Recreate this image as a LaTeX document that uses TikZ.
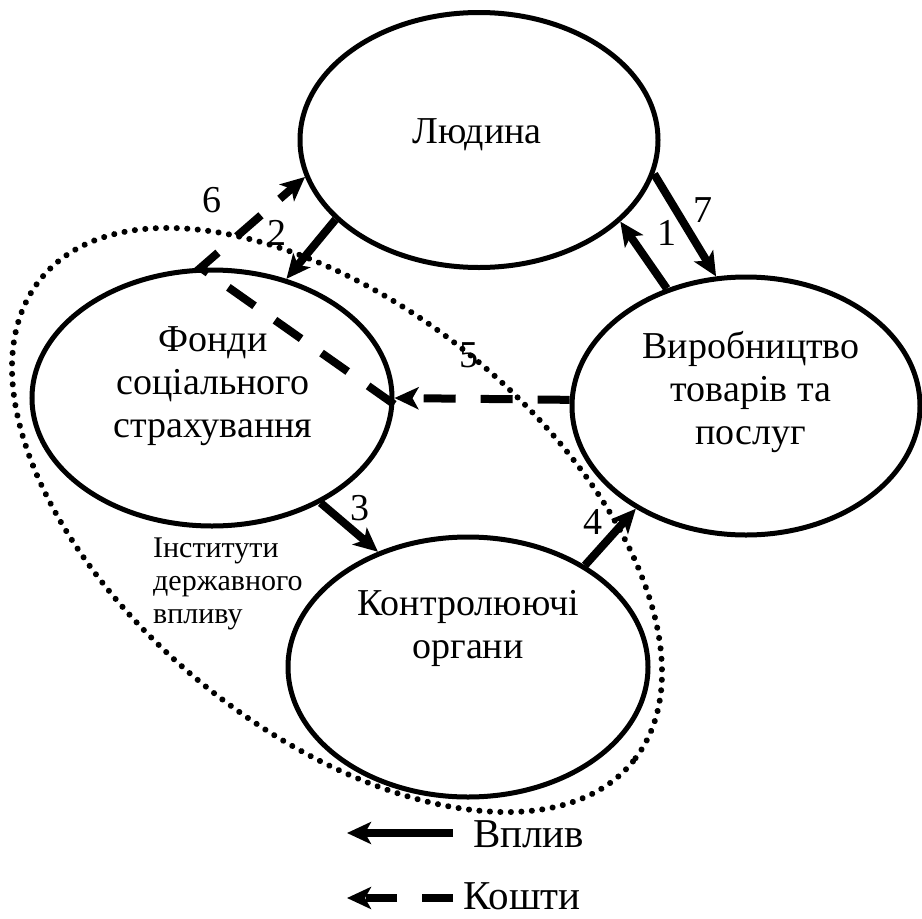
\documentclass[tikz,border=0pt]{standalone}
\usepackage{fontspec}
\setmainfont{Liberation Serif}
\usetikzlibrary{arrows.meta,shapes.geometric}
\begin{document}
\begin{tikzpicture}[x=1pt,y=-1pt,
  ell/.style={ellipse, draw, line width=5pt, inner sep=0pt},
  txt/.style={align=center, font=\fontsize{38}{43}\selectfont, inner sep=0pt},
  num/.style={font=\fontsize{38}{43}\selectfont, inner sep=0pt},
  tip/.style={-{Stealth[length=24pt,width=22pt,inset=6pt]}},
  infl/.style={tip, line width=8pt},
  money/.style={tip, line width=8pt, dash pattern=on 32pt off 25pt},
  dotline/.style={line width=6pt, line cap=round, dash pattern=on 0.1pt off 10.4pt}]
\useasboundingbox (0,0) rectangle (922,919);

% dotted boundary of state institutions
\draw[dotline, rotate around={-39.2:(337,520)}] (337,520) ellipse [x radius=382, y radius=212];

% ellipses
\node[ell, minimum width=358pt, minimum height=255pt] (lud) at (479,140) {};
\node[ell, minimum width=360pt, minimum height=256pt] (fon) at (212,398) {};
\node[ell, minimum width=348pt, minimum height=258pt] (vyr) at (746,406) {};
\node[ell, minimum width=360pt, minimum height=260pt] (kon) at (468,667) {};

% texts
\node[txt] (tlud) at (477,135) {Людина};
\node[txt] (tfon) at (213,386) {Фонди\\соціального\\страхування};
\node[txt] (tvyr) at (751,392) {Виробництво\\товарів та\\послуг};
\node[txt] (tkon) at (468,628) {Контролюючі\\органи};
\node[anchor=west, align=left, inner sep=0pt, font=\fontsize{30}{33}\selectfont] (tinst) at (153,584) {Інститути\\державного\\впливу};

% influence arrows
\draw[infl] (vyr.124) -- (lud.-30);
\draw[infl] (lud.-11.4) -- (vyr.103);
\draw[infl] (lud.209.6) -- (fon.58.7);
\draw[infl] (fon.-44.7) -- (kon.128.3);
\draw[infl] (kon.41) -- (vyr.223.6);

% money arrows
\draw[money] (vyr.178) -- (fon.0);
\draw[money] (fon.-2) -- (fon.95) -- (lud.192);

% numbers
\node[num] (n6) at (212,200) {6};
\node[num] (n2) at (277,233) {2};
\node[num] (n1) at (667,233) {1};
\node[num] (n7) at (703,210) {7};
\node[num] (n5) at (469,355) {5};
\node[num] (n3) at (360,508) {3};
\node[num] (n4) at (593,522) {4};

% legend
\coordinate (l1s) at (453,833);
\coordinate (l1e) at (347,833);
\coordinate (l2s) at (453,898);
\coordinate (l2e) at (347,898);
\draw[infl] (l1s) -- (l1e);
\draw[money, dash pattern=on 31pt off 25pt] (l2s) -- (l2e);
\node[anchor=base west, inner sep=0pt, font=\fontsize{41}{46}\selectfont] (lv) at (473,847) {Вплив};
\node[anchor=base west, inner sep=0pt, font=\fontsize{41}{46}\selectfont] (lk) at (463,909) {Кошти};
\end{tikzpicture}
\end{document}
